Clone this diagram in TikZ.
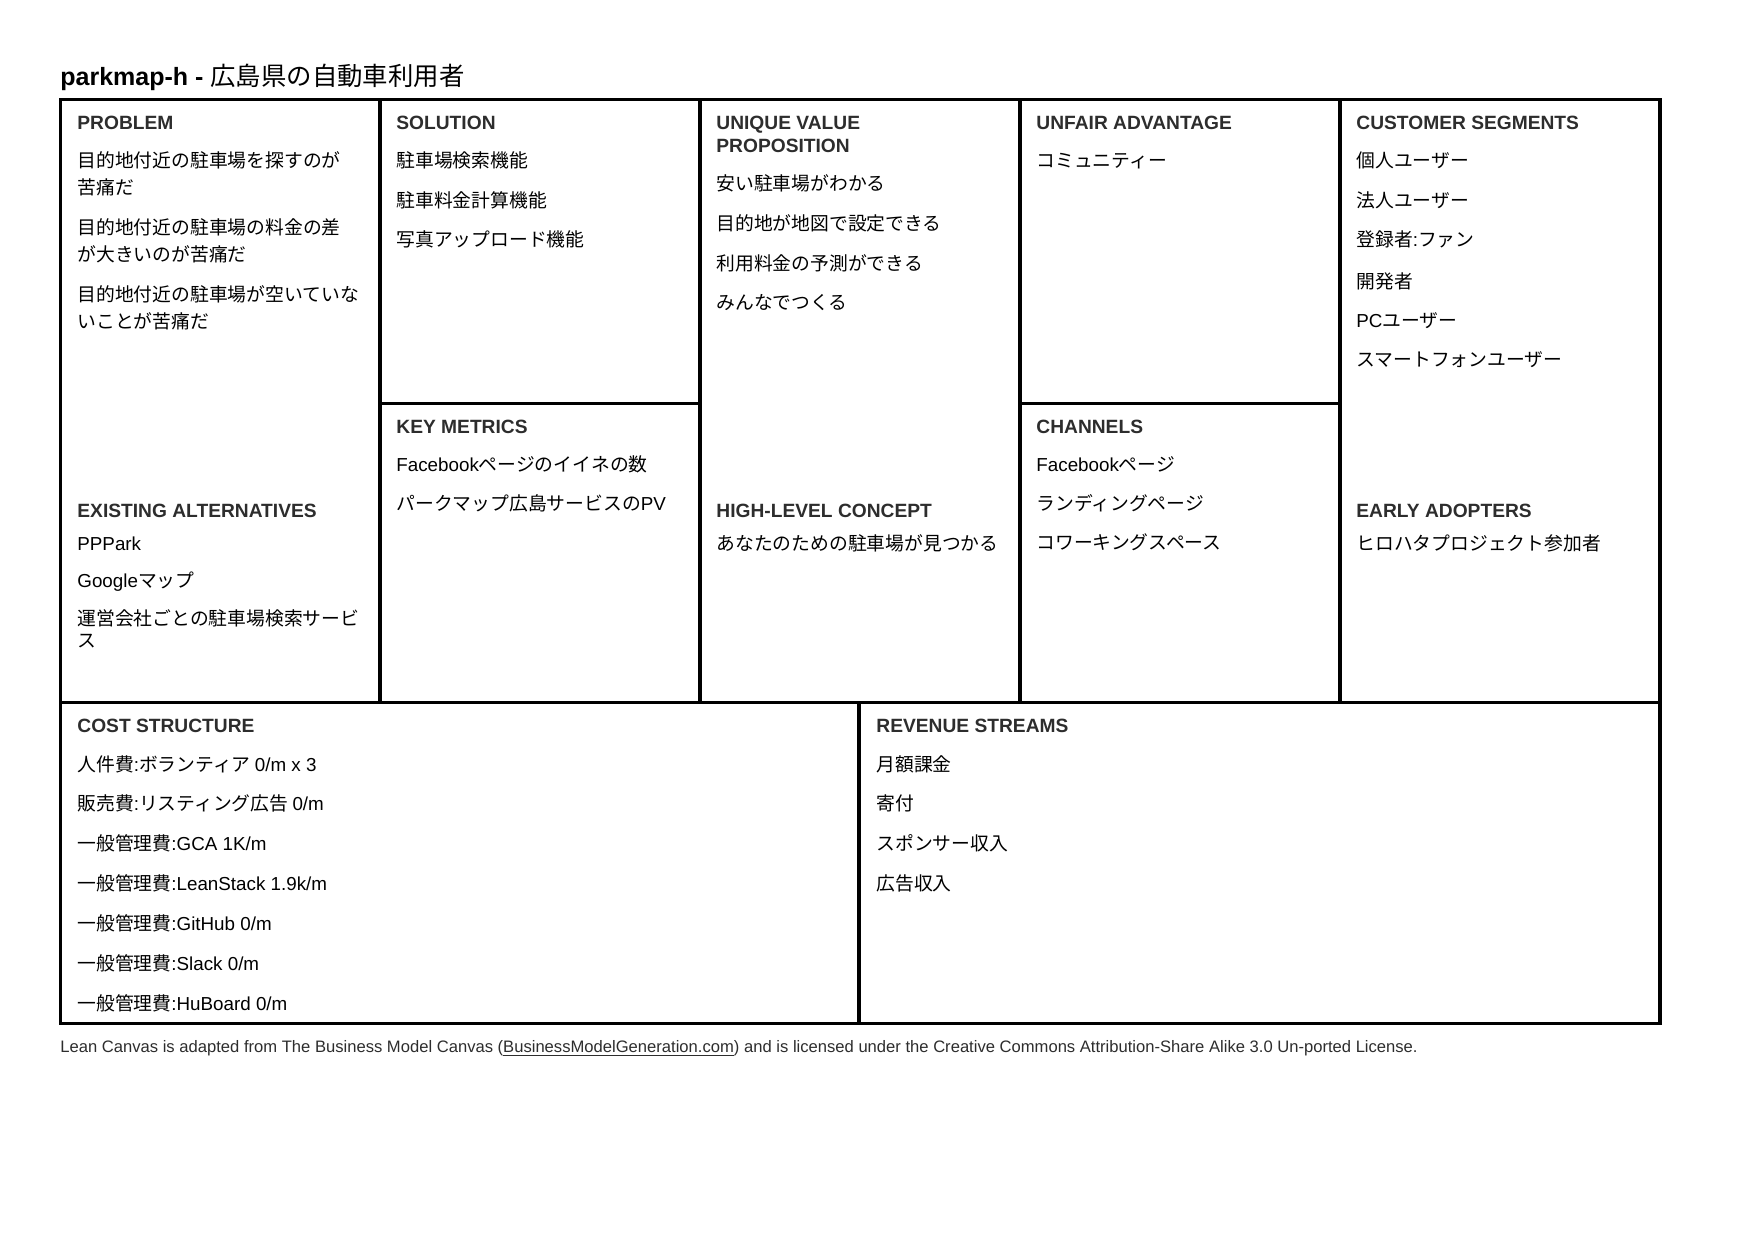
\documentclass[tikz,border=0pt]{standalone}
\usepackage{fontspec}
\setmainfont{Liberation Sans}
\newfontfamily\jp{Noto Sans CJK JP}
\newfontfamily\lat{Liberation Sans}
\usetikzlibrary{positioning}
\definecolor{headgray}{RGB}{45,45,45}
\tikzset{
  canvasline/.style={line width=1.6pt},
  sechead/.style={anchor=base west, inner sep=0pt, text=headgray,
    font=\bfseries\fontsize{9.6}{11}\selectfont},
  txt/.style={anchor=base west, inner sep=0pt, font=\jp\fontsize{9.4}{11}\selectfont},
}
\begin{document}
\begin{tikzpicture}[x=0.5pt,y=-0.5pt]
  \useasboundingbox (0,0) rectangle (1754,1239);
  \def\mid{702.5} % linha entre as duas faixas
  \draw[canvasline] (60.5,99.5) coordinate (nw) rectangle (1660,1023.5) coordinate (se);
  \draw[canvasline] (60.5,\mid) -- (1660,\mid);
  \foreach \x in {380,700,1020,1340}
    \draw[canvasline] (\x,99.5) -- (\x,\mid);
  \draw[canvasline] (380,403.5) -- (700,403.5);
  \draw[canvasline] (1020,403.5) -- (1340,403.5);
  \draw[canvasline] (859,\mid) -- (859,1023.5);
  \node[anchor=base west, inner sep=0pt, font=\bfseries\fontsize{12.5}{14}\selectfont] (title) at (60,85)
    {parkmap-h - {\mdseries\jp\fontsize{12.7}{14}\selectfont 広島県の自動車利用者}};
  % titulos das caixas
  \node[sechead] (problem) at (77,129.5) {PROBLEM};
  \node[sechead] (solution) at (396,129.5) {SOLUTION};
  \node[sechead] (uvp) at (716,129.5) {UNIQUE VALUE};
  \node[sechead] (uvp2) at (716,152.5) {PROPOSITION};
  \node[sechead] (unfair) at (1036,129.5) {UNFAIR ADVANTAGE};
  \node[sechead] (segments) at (1356,129.5) {CUSTOMER SEGMENTS};
  \node[sechead] (metrics) at (396,433) {KEY METRICS};
  \node[sechead] (channels) at (1036,433) {CHANNELS};
  \node[sechead] (alternatives) at (77,517.5) {EXISTING ALTERNATIVES};
  \node[sechead] (concept) at (716,517.5) {HIGH-LEVEL CONCEPT};
  \node[sechead] (adopters) at (1356,517.5) {EARLY ADOPTERS};
  \node[sechead] (cost) at (77,732) {COST STRUCTURE};
  \node[sechead] (revenue) at (876,732) {REVENUE STREAMS};
  % itens
  \foreach \y/\t [count=\i] in {167/目的地付近の駐車場を探すのが, 194/苦痛だ,
      234/目的地付近の駐車場の料金の差, 261/が大きいのが苦痛だ,
      301/目的地付近の駐車場が空いていな, 328/いことが苦痛だ}
    \node[txt] (problem\i) at (77,\y) {\t};
  \foreach \y/\t [count=\i] in {550.7/{\lat PPPark}, 587.3/{\lat Google}マップ,
      625/運営会社ごとの駐車場検索サービ, 647/ス}
    \node[txt] (alternatives\i) at (77,\y) {\t};
  \foreach \y/\t [count=\i] in {167/駐車場検索機能, 207/駐車料金計算機能, 246.5/写真アップロード機能}
    \node[txt] (solution\i) at (396,\y) {\t};
  \foreach \y/\t [count=\i] in {471/{\lat Facebook}ページのイイネの数, 510.5/パークマップ広島サービスの{\lat PV}}
    \node[txt] (metrics\i) at (396,\y) {\t};
  \foreach \y/\t [count=\i] in {190.5/安い駐車場がわかる, 230.5/目的地が地図で設定できる,
      270.5/利用料金の予測ができる, 309.5/みんなでつくる}
    \node[txt] (uvp\i) at (716,\y) {\t};
  \node[txt] (concept1) at (716,550.6) {あなたのための駐車場が見つかる};
  \node[txt] (unfair1) at (1036,167) {コミュニティー};
  \foreach \y/\t [count=\i] in {471/{\lat Facebook}ページ, 510.5/ランディングページ, 549.5/コワーキングスペース}
    \node[txt] (channels\i) at (1036,\y) {\t};
  \foreach \y/\t [count=\i] in {167/個人ユーザー, 207/法人ユーザー, 246.5/登録者{\lat :}ファン,
      288/開発者, 327/{\lat PC}ユーザー, 366/スマートフォンユーザー}
    \node[txt] (segments\i) at (1356,\y) {\t};
  \node[txt] (adopters1) at (1356,550.6) {ヒロハタプロジェクト参加者};
  \foreach \y/\t [count=\i] in {771/人件費{\lat :}ボランティア {\lat 0/m x 3},
      810.7/販売費{\lat :}リスティング広告 {\lat 0/m},
      850.7/一般管理費{\lat :GCA 1K/m},
      890.7/一般管理費{\lat :LeanStack 1.9k/m},
      930/一般管理費{\lat :GitHub 0/m},
      970/一般管理費{\lat :Slack 0/m},
      1010/一般管理費{\lat :HuBoard 0/m}}
    \node[txt] (cost\i) at (77,\y) {\t};
  \foreach \y/\t [count=\i] in {771/月額課金, 810.7/寄付, 850.7/スポンサー収入, 890.7/広告収入}
    \node[txt] (revenue\i) at (876,\y) {\t};
  \node[anchor=base west, inner sep=0pt, text=headgray, font=\fontsize{8.3}{9}\selectfont] (license) at (60,1052.5)
    {Lean Canvas is adapted from The Business Model Canvas (\underline{BusinessModelGeneration.com}) and is licensed under the Creative Commons Attribution-Share Alike 3.0 Un-ported License.};
\end{tikzpicture}
\end{document}
